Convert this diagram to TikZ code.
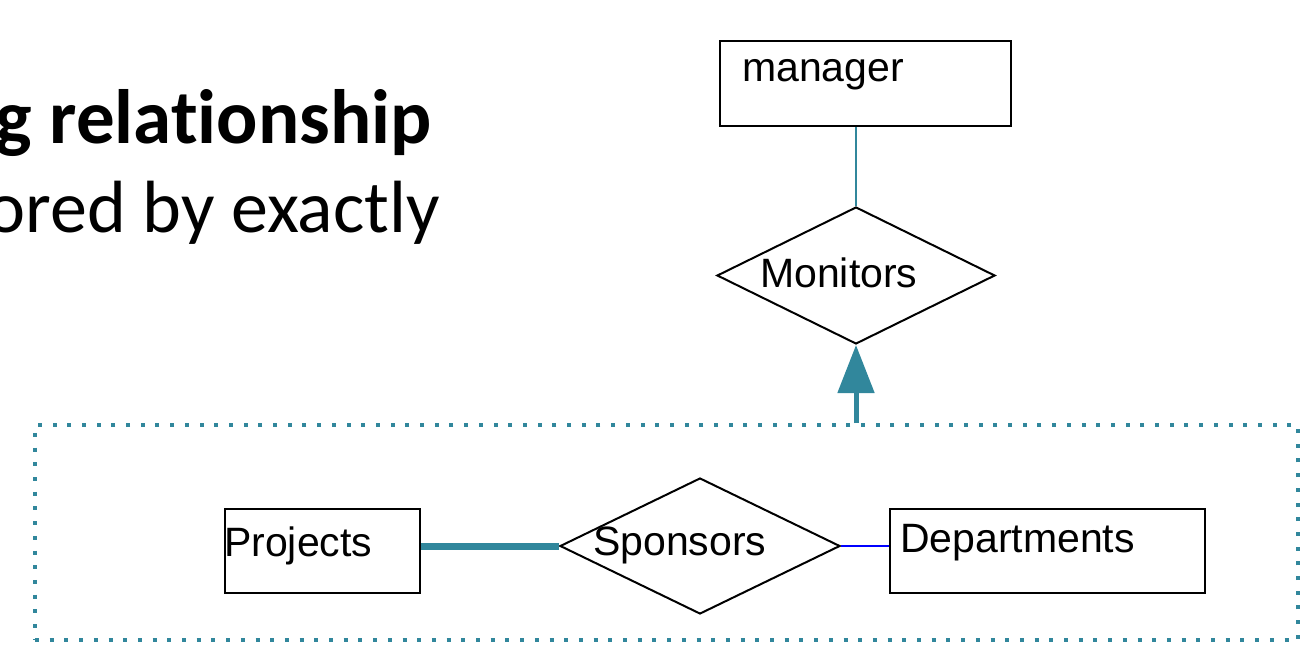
\documentclass[tikz,border=0pt]{standalone}
\usepackage{fontspec}
\setmainfont{Liberation Sans}
\newfontfamily\slidefont[Ligatures=NoCommon]{Carlito}
\usetikzlibrary{positioning,arrows.meta,shapes.geometric,calc}
\definecolor{erteal}{RGB}{49,135,156}
\definecolor{erblue}{RGB}{0,0,255}

\begin{document}
\begin{tikzpicture}[x=1pt, y=-1pt,
  entity/.style={draw, rectangle, line width=2pt, inner sep=0pt},
  relship/.style={draw, diamond, line width=2pt, inner sep=0pt},
  erlabel/.style={font=\fontsize{41}{46}\selectfont, anchor=base west, inner sep=0pt},
  slidetext/.style={font=\slidefont\fontsize{74}{80}\selectfont, anchor=base east, inner sep=0pt}]
  % Page
  \useasboundingbox (0,0) rectangle (1308,658);
  \clip (0,0) rectangle (1308,658);

  % Slide text (cut at the left)
  \node[slidetext, font=\slidefont\bfseries\fontsize{77}{80}\selectfont] (title) at (432,143) {g relationship};
  \node[slidetext] (body) at (440,232) {ored by exactly};

  % Aggregate box
  \node[draw=erteal, line width=4pt, dash pattern=on 4pt off 10.7pt,
        minimum width=1263pt, minimum height=215pt, inner sep=0pt] (aggr) at (666.5,532.5) {};

  % Entities
  \node[entity, minimum width=291pt, minimum height=85pt] (manager) at (865.5,83.5) {};
  \node[entity, minimum width=195pt, minimum height=84pt] (projects) at (322.5,551) {};
  \node[entity, minimum width=315pt, minimum height=84pt] (departments) at (1047.5,551) {};

  % Relationships
  \node[relship, minimum width=278pt, minimum height=137pt] (monitors) at (856,275.5) {};
  \node[relship, minimum width=280pt, minimum height=136pt] (sponsors) at (700,546) {};

  % Labels
  \node[erlabel] (managertxt) at (742,82) {manager};
  \node[erlabel] (monitorstxt) at (760,287) {Monitors};
  \node[erlabel] (projectstxt) at (224,556) {Projects};
  \node[erlabel] (sponsorstxt) at (593,555) {Sponsors};
  \node[erlabel] (departmentstxt) at (900,552) {Departments};

  % Connectors
  \draw[erteal, line width=1.5pt] (manager.south -| monitors.north) -- (monitors.north);
  \draw[erteal, line width=5pt, -{Triangle[width=36pt, length=48pt]}]
    (aggr.north -| monitors.south) -- (monitors.south);
  \draw[erteal, line width=7pt] (projects.east |- sponsors.west) -- (sponsors.west);
  \draw[erblue, line width=2pt] (sponsors.east) -- (sponsors.east -| departments.west);

\end{tikzpicture}
\end{document}
